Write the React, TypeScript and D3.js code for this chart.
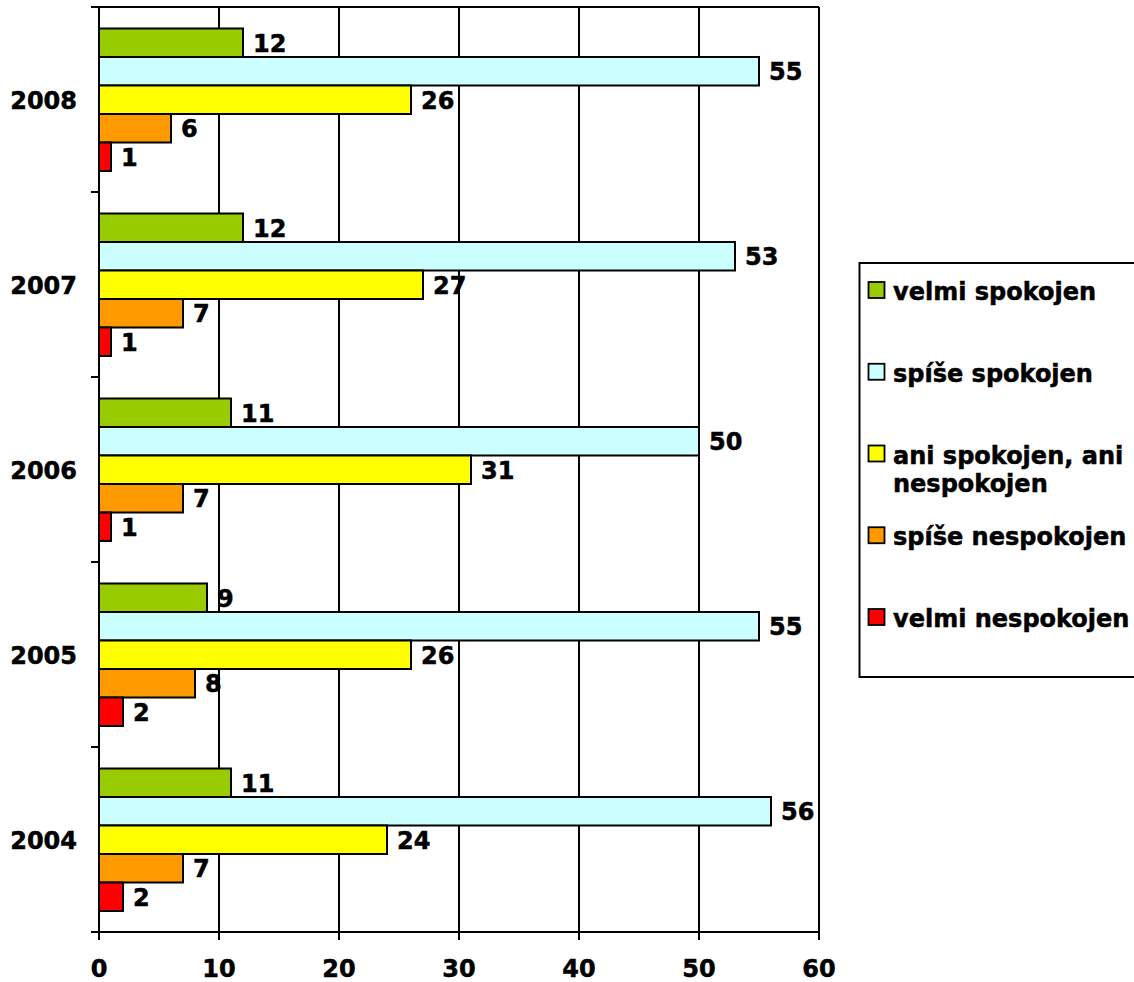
import React from "react";
import * as d3 from "d3";

const years = ["2008", "2007", "2006", "2005", "2004"];
const velmiSpokojen = [12, 12, 11, 9, 11];
const spiseSpokojen = [55, 53, 50, 55, 56];
const aniSpokojen = [26, 27, 31, 26, 24];
const spiseNespokojen = [6, 7, 7, 8, 7];
const velmiNespokojen = [1, 1, 1, 2, 2];
const xTicks = [0, 10, 20, 30, 40, 50, 60];

const seriesNames = [
  ["velmi spokojen"],
  ["spíše spokojen"],
  ["ani spokojen, ani", "nespokojen"],
  ["spíše nespokojen"],
  ["velmi nespokojen"],
];
const seriesValues = [velmiSpokojen, spiseSpokojen, aniSpokojen, spiseNespokojen, velmiNespokojen];
const seriesColors = ["#99CC00", "#CCFFFF", "#FFFF00", "#FF9900", "#FF0000"];

const FONT = "'DejaVu Sans', Verdana, sans-serif";
const FS = 24;

export default function App() {
  const left = 99, right = 819, top = 7, bottom = 932;
  const x = d3.scaleLinear().domain([0, 60]).range([left, right]);
  const y = d3.scaleBand<string>().domain(years).range([top, bottom]).padding(0);
  const inner = d3
    .scaleBand<number>()
    .domain(d3.range(seriesValues.length))
    .range([21.5, y.bandwidth() - 21]);
  const boundaries = d3.range(years.length + 1).map((i) => top + i * y.bandwidth());

  const legendTop = 290;
  const legendStep = 81.75;

  return (
    <svg
      width={1134}
      height={982}
      style={{ position: "absolute", left: 0, top: 0, background: "#fff" }}
      fontFamily={FONT}
      fontWeight="bold"
      fontSize={FS}
    >
      {xTicks.map((t) => (
        <line key={"g" + t} x1={x(t)} x2={x(t)} y1={top} y2={bottom} stroke="#000" strokeWidth={2} />
      ))}
      <line x1={left} x2={right} y1={top} y2={top} stroke="#000" strokeWidth={2} />
      <g stroke="none">
        {years.map((yr, yi) => (
          <g key={yr} transform={`translate(0,${y(yr)})`}>
            {seriesValues.map((vals, si) => {
              const v = vals[yi];
              const by = inner(si)!;
              const bh = inner.bandwidth();
              return (
                <g key={si}>
                  <rect
                    x={x(0)}
                    y={by}
                    width={x(v) - x(0)}
                    height={bh}
                    fill={seriesColors[si]}
                    stroke="#000"
                    strokeWidth={2}
                  />
                  <text
                    x={x(v) + 10}
                    y={by + bh / 2 + 1}
                    dominantBaseline="central"
                    fill="#000"
                    stroke="#000"
                    strokeWidth={0.5}
                  >
                    {v}
                  </text>
                </g>
              );
            })}
          </g>
        ))}
      </g>
      <line x1={left} x2={left} y1={top} y2={bottom} stroke="#000" strokeWidth={2} />
      <line x1={left - 8} x2={right} y1={bottom} y2={bottom} stroke="#000" strokeWidth={2} />
      {boundaries.map((b, i) => (
        <line key={"yt" + i} x1={left - 8} x2={left} y1={b} y2={b} stroke="#000" strokeWidth={2} />
      ))}
      {xTicks.map((t) => (
        <line key={"xt" + t} x1={x(t)} x2={x(t)} y1={bottom} y2={bottom + 8} stroke="#000" strokeWidth={2} />
      ))}
      <g stroke="#000" strokeWidth={0.5}>
        {xTicks.map((t) => (
          <text key={"xl" + t} x={x(t)} y={969} textAnchor="middle" dominantBaseline="central">
            {t}
          </text>
        ))}
        {years.map((yr) => (
          <text
            key={"yl" + yr}
            x={77}
            y={y(yr)! + y.bandwidth() / 2 + 1}
            textAnchor="end"
            dominantBaseline="central"
          >
            {yr}
          </text>
        ))}
      </g>
      <rect x={859.5} y={263} width={290} height={414} fill="#fff" stroke="#000" strokeWidth={2} />
      {seriesNames.map((lines, i) => {
        const cy = legendTop + i * legendStep;
        return (
          <g key={"lg" + i}>
            <rect x={868.5} y={cy - 8} width={16} height={16} fill={seriesColors[i]} stroke="#000" strokeWidth={1.8} />
            {lines.map((ln, li) => (
              <text
                key={li}
                x={893}
                y={cy + 2 + li * 28}
                dominantBaseline="central"
                stroke="#000"
                strokeWidth={0.5}
              >
                {ln}
              </text>
            ))}
          </g>
        );
      })}
    </svg>
  );
}
